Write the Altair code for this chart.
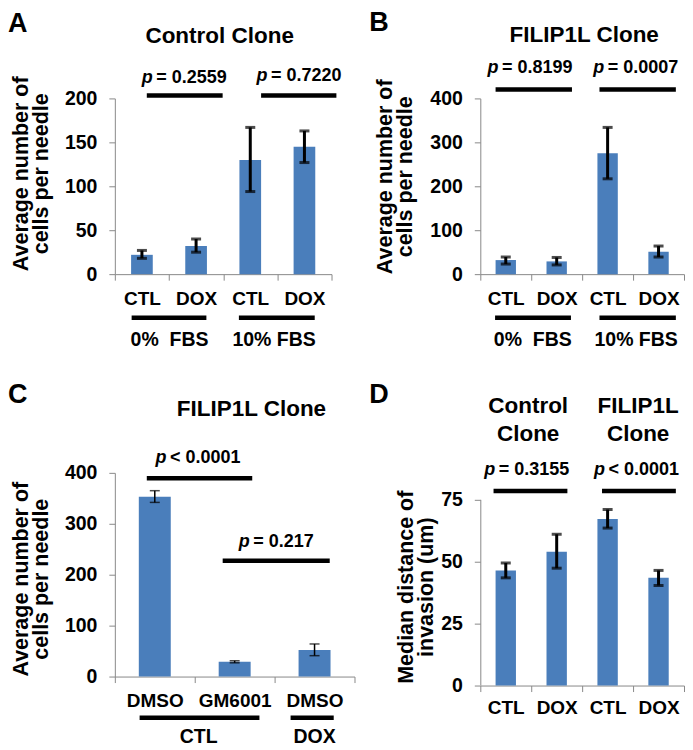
import altair as alt
import pandas as pd

FONT = "Liberation Sans"
BAR = "#4a7ebb"
AXC = "#898989"

# ---------------- data ----------------
a_cats = ["CTL_0", "DOX_0", "CTL_10", "DOX_10"]
a_mean = [22, 32, 130, 145]
a_lo = [18, 25, 94, 127]
a_hi = [27, 40, 167, 163]
a_pvals = ["= 0.2559", "= 0.7220"]
a_groups = ["0% \u00a0FBS", "10% FBS"]

b_cats = ["CTL_0", "DOX_0", "CTL_10", "DOX_10"]
b_mean = [32, 29, 275, 51]
b_lo = [23, 21, 217, 39]
b_hi = [39, 38, 334, 64]
b_pvals = ["= 0.8199", "= 0.0007"]
b_groups = ["0% \u00a0FBS", "10% FBS"]

c_cats = ["DMSO_CTL", "GM6001_CTL", "DMSO_DOX"]
c_mean = [353, 29, 52]
c_lo = [342, 27, 41]
c_hi = [365, 31, 64]
c_pvals = ["< 0.0001", "= 0.217"]
c_groups = ["CTL", "DOX"]

d_cats = ["CTL_control", "DOX_control", "CTL_filip", "DOX_filip"]
d_mean = [46.5, 54, 67.3, 43.5]
d_lo = [43.5, 47.4, 63.6, 40.4]
d_hi = [49.5, 61.1, 71.1, 46.5]
d_pvals = ["= 0.3155", "< 0.0001"]

ytitle_cells = ["Average number of", "cells per needle"]
ytitle_dist = ["Median distance of", "invasion (um)"]


def panel(cats, mean, lo, hi, ydom, yvals, w, h, ytitle, tx, ty, ew,
          plines, ptexts, glines, glabels, titles, letter,
          xlabpad=9, ydomain_line=True, axis_top=None):
    n = len(cats)
    df = pd.DataFrame({"cat": cats, "mean": mean, "lo": lo, "hi": hi})
    ysc = alt.Scale(domain=ydom, nice=False, zero=False)
    bsc = alt.Scale(type="band", domain=cats, paddingInner=0, paddingOuter=0)
    qsc = alt.Scale(domain=[0, n], nice=False, zero=False)

    xaxis = alt.Axis(title=None, labelExpr="split(datum.label, '_')[0]", labelAngle=0,
                     tickBand="extent", domainColor=AXC, tickColor=AXC, tickSize=6,
                     labelFont=FONT, labelFontSize=19, labelFontWeight="bold",
                     labelColor="black", labelPadding=xlabpad, grid=False)
    yaxis = alt.Axis(values=yvals, title=ytitle, titleFont=FONT, titleFontSize=21.5,
                     titleFontWeight="bold", titleColor="black", titleLineHeight=20,
                     titleX=tx, titleY=ty, titleBaseline="middle", titleAlign="center",
                     labelFont=FONT, labelFontSize=19.5, labelFontWeight="bold",
                     labelColor="black", labelPadding=12, labelFlush=False,
                     tickSize=6, domainColor=AXC, tickColor=AXC, grid=False,
                     domain=ydomain_line)

    base = alt.Chart(df)
    bars = base.mark_bar(color=BAR, width=alt.RelativeBandSize(0.4)).encode(
        x=alt.X("cat:N", scale=bsc, axis=xaxis),
        y=alt.Y("mean:Q", scale=ysc, axis=yaxis))
    xe = alt.X("cat:N", scale=bsc, axis=None)
    stem = base.mark_rule(color="black", strokeWidth=ew).encode(
        x=xe, y=alt.Y("lo:Q", scale=ysc, axis=yaxis), y2="hi:Q")
    cap_lo = base.mark_tick(color="black", thickness=ew, size=10).encode(
        x=xe, y=alt.Y("lo:Q", scale=ysc, axis=yaxis))
    cap_hi = base.mark_tick(color="black", thickness=ew, size=10).encode(
        x=xe, y=alt.Y("hi:Q", scale=ysc, axis=yaxis))

    xq = alt.X("x:Q", scale=qsc, axis=None)
    yq = alt.Y("y:Q", scale=ysc, axis=yaxis)

    def rules(d):
        return alt.Chart(pd.DataFrame(d)).mark_rule(
            color="black", strokeWidth=4.5, strokeCap="butt").encode(x=xq, x2="x2:Q", y=yq)

    def texts(d, size, align="center", style="normal", dx=0):
        return alt.Chart(pd.DataFrame(d)).mark_text(
            font=FONT, fontSize=size, fontWeight="bold", fontStyle=style, align=align,
            baseline="alphabetic", color="black", dx=dx).encode(x=xq, y=yq, text="t:N")

    layers = [bars, stem, cap_lo, cap_hi]
    if axis_top is not None:
        layers.append(alt.Chart(pd.DataFrame({"y": [0], "y2": [axis_top]})).mark_rule(
            color=AXC, strokeWidth=1).encode(x=alt.value(0.5), y=yq, y2="y2:Q"))
    layers.append(rules(plines))
    layers.append(texts({"x": ptexts["x"], "y": ptexts["y"], "t": ["p"] * len(ptexts["x"])},
                        18, align="right", style="italic"))
    layers.append(texts(ptexts, 18, align="left", dx=3.5))
    if glines is not None:
        layers.append(rules(glines))
        layers.append(texts(glabels, 19.5))
    layers.append(texts(titles, 22.5))
    layers.append(texts(letter, 27, align="left"))
    return alt.layer(*layers).resolve_scale(x="independent").properties(width=w, height=h)


pa = panel(a_cats, a_mean, a_lo, a_hi, [0, 200], [0, 50, 100, 150, 200], 217, 176,
           ytitle_cells, -93, 75, 3,
           {"x": [0.59, 2.70], "x2": [1.99, 4.09], "y": [203.4, 203.4]},
           {"x": [0.70, 2.82], "y": [217.4, 219.3], "t": a_pvals},
           {"x": [0.31, 2.29], "x2": [1.69, 3.69], "y": [-49.7, -49.7]},
           {"x": [1.01, 2.94], "y": [-81.8, -81.8], "t": a_groups},
           {"x": [1.935], "y": [263], "t": ["Control Clone"]},
           {"x": [-1.972], "y": [276.1], "t": ["A"]})

pb = panel(b_cats, b_mean, b_lo, b_hi, [0, 400], [0, 100, 200, 300, 400], 204, 176,
           ytitle_cells, -95, 78, 3,
           {"x": [0.30, 2.34], "x2": [1.80, 3.84], "y": [420.5, 420.5]},
           {"x": [0.356, 2.436], "y": [457.5, 457.5], "t": b_pvals},
           {"x": [0.29, 2.34], "x2": [1.78, 3.84], "y": [-99.3, -99.3]},
           {"x": [1.03, 3.06], "y": [-163.6, -163.6], "t": b_groups},
           {"x": [2.04], "y": [529.5], "t": ["FILIP1L Clone"]},
           {"x": [-2.18], "y": [552.3], "t": ["B"]})

pc = panel(c_cats, c_mean, c_lo, c_hi, [0, 400], [0, 100, 200, 300, 400], 240, 204,
           ytitle_cells, -93, 106, 1.5,
           {"x": [0.40, 1.35], "x2": [1.72, 2.69], "y": [389.6, 227.5]},
           {"x": [0.646, 1.69], "y": [419, 253.5], "t": c_pvals},
           {"x": [0.31, 2.20], "x2": [1.81, 2.74], "y": [-81, -81]},
           {"x": [1.05, 2.5], "y": [-131, -131], "t": c_groups},
           {"x": [1.71], "y": [511.8], "t": ["FILIP1L Clone"]},
           {"x": [-1.3375], "y": [537.3], "t": ["C"]})

pd_ = panel(d_cats, d_mean, d_lo, d_hi, [0, 85.9], [0, 25, 50, 75], 204, 213,
            ytitle_dist, -74, 114, 3,
            {"x": [0.26, 2.39], "x2": [1.71, 3.84], "y": [78.6, 78.6]},
            {"x": [0.295, 2.45], "y": [85, 85], "t": d_pvals},
            None, None,
            {"x": [0.94, 0.94, 3.1, 3.1], "y": [110.2, 98.8, 110.2, 98.8],
             "t": ["Control", "Clone", "FILIP1L", "Clone"]},
            {"x": [-2.18], "y": [114.1], "t": ["D"]},
            xlabpad=7, ydomain_line=False, axis_top=75)

chart = alt.concat(pa, pb, pc, pd_, columns=2, spacing={"row": 199, "column": 126},
                   bounds="flush", align="each").properties(padding=0).configure_view(stroke=None)

chart.save("out.html", embed_options={"renderer": "svg", "actions": False})
